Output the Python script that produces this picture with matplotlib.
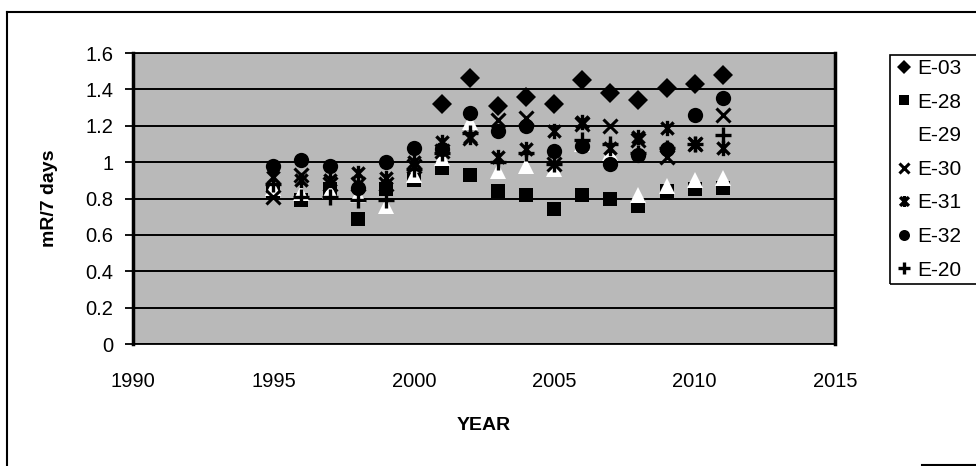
import numpy as np
import matplotlib
matplotlib.use("Agg")
import matplotlib.pyplot as plt
from matplotlib.path import Path
from matplotlib.lines import Line2D
from matplotlib.patches import Rectangle

plt.rcParams['font.family'] = ['Liberation Sans', 'DejaVu Sans']

years = [1995, 1996, 1997, 1998, 1999, 2000, 2001, 2002, 2003, 2004, 2005,
         2006, 2007, 2008, 2009, 2010, 2011]
nan = np.nan
e03 = [nan, nan, nan, nan, nan, nan, 1.32, 1.46, 1.31, 1.36, 1.32,
       1.45, 1.38, 1.34, 1.41, 1.43, 1.48]
e28 = [0.84, 0.79, 0.85, 0.69, 0.85, 0.90, 0.97, 0.93, 0.84, 0.82, 0.74,
       0.82, 0.80, 0.76, 0.84, 0.85, 0.86]
e29 = [0.86, 0.83, 0.84, 0.82, 0.76, 0.93, 1.02, 1.22, 0.95, 0.98, 0.96,
       1.10, 1.05, 0.82, 0.87, 0.90, 0.91]
e30 = [0.81, 0.93, 0.88, 0.88, 0.88, 0.98, 1.06, 1.13, 1.23, 1.24, 0.99,
       1.21, 1.20, 1.12, 1.03, 1.10, 1.26]
e31 = [0.92, 0.90, 0.90, 0.94, 0.91, 1.00, 1.11, 1.14, 1.03, 1.07, 1.17,
       1.22, 1.08, 1.14, 1.19, 1.10, 1.08]
e32 = [0.98, 1.01, 0.98, 0.86, 1.00, 1.08, 1.07, 1.27, 1.17, 1.20, 1.06,
       1.09, 0.99, 1.04, 1.07, 1.26, 1.35]
e20 = [0.88, 0.81, 0.81, 0.79, 0.79, 0.96, 1.05, 1.16, 1.00, 1.05, 0.99,
       1.12, 1.10, 1.05, 1.08, 1.10, 1.15]

series_names = ['E-03', 'E-28', 'E-29', 'E-30', 'E-31', 'E-32', 'E-20']
x_ticks = [1990, 1995, 2000, 2005, 2010, 2015]
y_ticks = [0, 0.2, 0.4, 0.6, 0.8, 1.0, 1.2, 1.4, 1.6]
y_labels = ['0', '0.2', '0.4', '0.6', '0.8', '1', '1.2', '1.4', '1.6']

# Excel-style asterisk: X with vertical bar
ast = Path([(-1, -1), (1, 1), (-1, 1), (1, -1), (0, -1.25), (0, 1.25)],
           [Path.MOVETO, Path.LINETO, Path.MOVETO, Path.LINETO, Path.MOVETO, Path.LINETO])

styles = [
    dict(marker='D', ms=10, mfc='black', mec='black', mew=0),
    dict(marker='s', ms=9.5, mfc='black', mec='black', mew=0),
    dict(marker='^', ms=12, mfc='white', mec='white', mew=0),
    dict(marker='x', ms=10, mfc='black', mec='black', mew=2.2),
    dict(marker=ast, ms=11, mfc='black', mec='black', mew=2.4),
    dict(marker='o', ms=11, mfc='black', mec='black', mew=0),
    dict(marker='+', ms=12, mfc='black', mec='black', mew=2.4),
]
data = [e03, e28, e29, e30, e31, e32, e20]

W, H = 976, 466
fig = plt.figure(figsize=(W / 100, H / 100), dpi=100)
fig.patch.set_facecolor('white')

ax = fig.add_axes([133 / W, 1 - 344 / H, (835 - 133) / W, (344 - 53) / H])
ax.set_facecolor('#b9b9b9')

for vals, st, name in zip(data, styles, series_names):
    ax.plot(years, vals, linestyle='none', label=name, zorder=3, **st)

ax.set_xlim(1990, 2015)
ax.set_ylim(0, 1.6)
ax.set_xticks(x_ticks)
ax.set_xticklabels([str(v) for v in x_ticks])
ax.set_yticks(y_ticks)
ax.set_yticklabels(y_labels)
ax.yaxis.grid(True, color='black', linewidth=1.4, zorder=1)
ax.set_axisbelow(True)
ax.tick_params(axis='y', direction='out', length=6, width=1.3, pad=8, labelsize=14.5)
ax.tick_params(axis='x', length=0, pad=20, labelsize=14.5)
for side in ['left', 'right']:
    ax.spines[side].set_linewidth(2.5)
for side in ['top', 'bottom']:
    ax.spines[side].set_linewidth(1.3)

fig.text(484 / W, 1 - 425 / H, 'YEAR', ha='center', va='center',
         fontsize=14, fontweight='bold')
fig.text(50 / W, 1 - 198 / H, 'mR/7 days', ha='center', va='center',
         rotation=90, fontsize=14, fontweight='bold')

# legend
handles = []
for st, name in zip(styles, series_names):
    s = dict(st)
    s['ms'] = s['ms'] * 0.72
    handles.append(Line2D([], [], linestyle='none', **s))
leg = fig.legend(handles, series_names, loc='upper left',
                 bbox_to_anchor=(896 / W, 1 - 57 / H), frameon=False,
                 fontsize=15, handlelength=0.6, handletextpad=0.3,
                 labelspacing=0.7, borderpad=0.1, borderaxespad=0)
fig.add_artist(Rectangle((890 / W, 1 - 284 / H), 100 / W, (284 - 55) / H,
                         transform=fig.transFigure, fill=False,
                         edgecolor='black', linewidth=1.2))

# outer chart frame
fig.add_artist(Line2D([7 / W, 7 / W], [0, 1 - 12 / H], color='black', lw=1.5,
                      transform=fig.transFigure))
fig.add_artist(Line2D([7 / W, 1], [1 - 12 / H, 1 - 12 / H], color='black', lw=1.5,
                      transform=fig.transFigure))
fig.add_artist(Line2D([922 / W, 1], [1 / H, 1 / H], color='black', lw=1.5,
                      transform=fig.transFigure))

fig.savefig('out.png', dpi=100)
